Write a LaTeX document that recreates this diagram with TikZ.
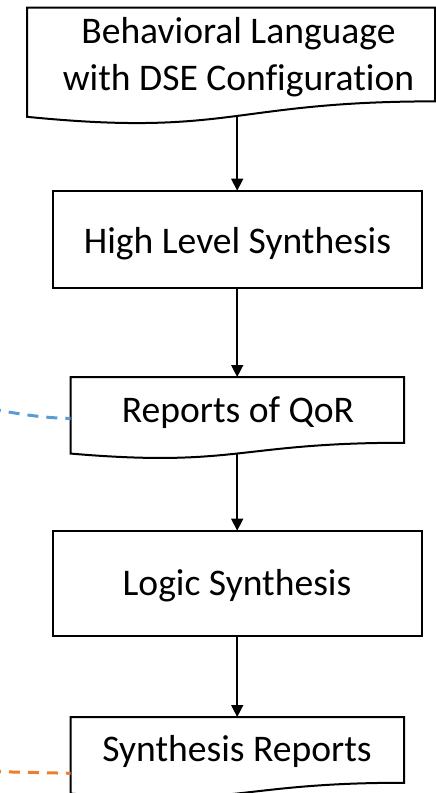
\documentclass[tikz,border=0pt]{standalone}
\usepackage{fontspec}
\setmainfont[Ligatures=NoCommon]{Carlito}
\usetikzlibrary{arrows.meta,calc}

\definecolor{linkblue}{RGB}{91,155,213}
\definecolor{linkorange}{RGB}{237,125,49}

% Outline of a flowchart "document" shape around an (invisible) node:
% straight top and sides, wavy bottom edge.
\newcommand\docoutline[1]{%
  \draw[outline] (#1.north west) -- (#1.north east)
    -- ($(#1.north east)!0.8596!(#1.south east)$)
    .. controls ($(#1.north)!0.8596!(#1.south)$) and ($(#1.north)!1.187!(#1.south)$)
    .. ($(#1.north west)!1.001!(#1.south west)$) -- cycle;}

\begin{document}
\begin{tikzpicture}[x=1pt,y=-1pt,
  outline/.style={draw=black, line width=2pt, line join=miter},
  docshape/.style={inner sep=0pt, outer sep=0pt, anchor=north west},
  procbox/.style={outline, fill=white, inner sep=0pt, outer sep=0pt, anchor=north west},
  txt/.style={font=\fontsize{37.6}{47.5}\selectfont, inner sep=0pt, anchor=base},
  flow/.style={draw=black, line width=1.5pt, -{Triangle[length=12pt,width=12pt]}},
  link/.style={line width=3pt, dash pattern=on 11pt off 8pt}
]
\useasboundingbox (0,0) rectangle (436,793);

% document shapes
\node[docshape, minimum width=408pt, minimum height=109.2pt] (src) at (27,7.5) {};
\docoutline{src}
\node[docshape, minimum width=333.3pt, minimum height=76.5pt] (qor) at (70.7,377) {};
\docoutline{qor}
\node[docshape, minimum width=333.3pt, minimum height=76.5pt] (rep) at (70.7,717) {};
\docoutline{rep}

% process boxes
\node[procbox, minimum width=369pt, minimum height=97.3pt] (hls) at (52.7,190.7) {};
\node[procbox, minimum width=369pt, minimum height=105.3pt] (ls) at (52.7,530.7) {};

% labels (base anchor of the two-line label sits on its last line)
\node[txt, align=center] (srctext) at (238.5,90.5) {Behavioral Language\\with DSE Configuration};
\node[txt] (hlstext) at (237.5,253) {High Level Synthesis};
\node[txt] (qortext) at (238,422) {Reports of QoR};
\node[txt] (lstext) at (237,595) {Logic Synthesis};
\node[txt] (reptext) at (237,761.5) {Synthesis Reports};

% flow arrows
\draw[flow] (src.south -| hls.north) -- (hls.north);
\draw[flow] (hls.south) -- (qor.north -| hls.south);
\draw[flow] (qor.south -| ls.north) -- (ls.north);
\draw[flow] (ls.south) -- (rep.north -| ls.south);

% dashed links entering from the left
\coordinate (bluefrom) at (-10,408.5);
\coordinate (orangefrom) at (-10,771.5);
\draw[link, linkblue] (bluefrom) .. controls (25,415.5) and (50,418.3) .. ($(qor.north west)+(0,41.3)$);
\draw[link, linkorange] (orangefrom) -- ($(rep.north west)+(0,56.3)$);
\end{tikzpicture}
\end{document}
